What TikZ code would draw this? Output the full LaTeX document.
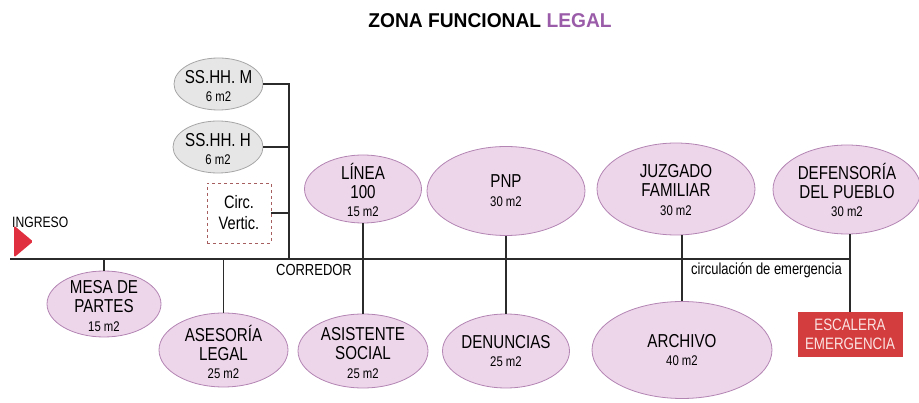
\documentclass[tikz,border=0pt]{standalone}
\usepackage{fontspec}
\setmainfont{Liberation Sans}[FakeStretch=0.81]
\newfontfamily\titlefont{Liberation Sans}[FakeStretch=0.96]
\usetikzlibrary{shapes.geometric}
\definecolor{pinkfill}{HTML}{EDD5EA}
\definecolor{pinkline}{HTML}{B385B3}
\definecolor{grayfill}{HTML}{E6E6E6}
\definecolor{grayline}{HTML}{A6A6A6}
\definecolor{legalpurple}{HTML}{9A5CA8}
\definecolor{stairred}{HTML}{D43D3D}
\definecolor{stairtext}{HTML}{FBE3E3}
\definecolor{ingred}{HTML}{E0303F}
\definecolor{dashbrown}{HTML}{A65E5E}
\definecolor{conn}{HTML}{2B2B2B}
\newcommand{\zbigfont}{\fontsize{18.7}{18.8}\selectfont}
\newcommand{\sml}{\fontsize{14}{18.8}\selectfont}
\tikzset{
  zone/.style={ellipse, draw=pinkline, fill=pinkfill, line width=0.8pt, inner sep=0pt},
  wc/.style={ellipse, draw=grayline, fill=grayfill, line width=0.8pt, inner sep=0pt},
  ztext/.style={align=center, inner sep=0pt, font=\zbigfont, text=black},
  link/.style={draw=conn, line width=1.2pt},
  lbl/.style={inner sep=0pt, font=\fontsize{16}{18}\selectfont, text=black}
}
\begin{document}
\begin{tikzpicture}[x=1pt,y=-1pt]
\useasboundingbox (0,0) rectangle (919,403);
% title
\node[inner sep=0pt, font=\titlefont\bfseries\fontsize{20}{22}\selectfont] (title) at (490,21)
  {ZONA FUNCIONAL \textcolor{legalpurple}{LEGAL}};
% ingreso
\node[anchor=west, inner sep=0pt, font=\fontsize{15}{16}\selectfont] (ingt) at (12,222) {INGRESO};
\node[isosceles triangle, fill=ingred, inner sep=0pt, minimum width=18pt, minimum height=19pt,
      rounded corners=1.5pt, isosceles triangle apex angle=80] (ing) at (21.5,241.5) {};
% corridor coordinates
\coordinate (cstart) at (10,259);
\coordinate (ssx) at (289,259);
% WC group
\node[wc, minimum width=89pt, minimum height=52pt] (ssm) at (218.5,84) {};
\node[ztext] (ssm-t) at (218.5,86) {SS.HH. M\\{\sml 6 m2}};
\node[wc, minimum width=90pt, minimum height=52pt] (ssh) at (218,147) {};
\node[ztext] (ssh-t) at (218,149) {SS.HH. H\\{\sml 6 m2}};
\node[draw=dashbrown, dashed, line width=0.8pt, minimum width=64pt, minimum height=60pt, inner sep=0pt,
      align=center, font=\fontsize{18}{21}\selectfont] (circ) at (239,213) {Circ.\\Vertic.};
% zones
\node[zone, minimum width=114pt, minimum height=66pt] (mesa) at (104,304) {};
\node[ztext] (mesa-t) at (104,306) {MESA DE\\PARTES\\{\sml 15 m2}};
\node[zone, minimum width=129pt, minimum height=74pt] (ases) at (223.5,350) {};
\node[ztext] (ases-t) at (223.5,352) {ASESORÍA\\LEGAL\\{\sml 25 m2}};
\node[zone, minimum width=117pt, minimum height=68pt] (linea) at (363,189) {};
\node[ztext] (linea-t) at (363,190) {LÍNEA\\100\\{\sml 15 m2}};
\node[zone, minimum width=130pt, minimum height=74pt] (asis) at (363,351) {};
\node[ztext] (asis-t) at (363,353) {ASISTENTE\\SOCIAL\\{\sml 25 m2}};
\node[zone, minimum width=158pt, minimum height=89pt] (pnp) at (506,191) {};
\node[ztext] (pnp-t) at (506,191) {PNP\\{\sml 30 m2}};
\node[zone, minimum width=127pt, minimum height=74pt] (denu) at (506,351) {};
\node[ztext] (denu-t) at (506,351) {DENUNCIAS\\{\sml 25 m2}};
\node[zone, minimum width=158pt, minimum height=92pt] (juz) at (676,189) {};
\node[ztext] (juz-t) at (676,190) {JUZGADO\\FAMILIAR\\{\sml 30 m2}};
\node[zone, minimum width=180pt, minimum height=97pt] (arch) at (682,350) {};
\node[ztext] (arch-t) at (682,350) {ARCHIVO\\{\sml 40 m2}};
\node[zone, minimum width=148pt, minimum height=89pt] (def) at (847,189.5) {};
\node[ztext] (def-t) at (847,190) {DEFENSORÍA\\DEL PUEBLO\\{\sml 30 m2}};
\node[fill=stairred, minimum width=105pt, minimum height=45pt, inner sep=0pt, align=center,
      text=stairtext, font=\fontsize{16.5}{18.5}\selectfont] (esc) at (850,334.5) {ESCALERA\\EMERGENCIA};
% corridor
\draw[link] (cstart) -- (cstart -| esc.north);
\node[lbl, anchor=west] (corr) at (276,270) {CORREDOR};
\node[lbl, anchor=west] (circem) at (691,270) {circulación de emergencia};
% connectors
\draw[link] (ssm.east) -| (ssx);
\draw[link] (ssh.east) -- (ssh.east -| ssx);
\draw[link] (circ.east) -- (circ.east -| ssx);
\draw[link] (mesa.north) -- (mesa.north |- cstart);
\draw[link] (ases.north) -- (ases.north |- cstart);
\draw[link] (linea.south) -- (asis.north);
\draw[link] (pnp.south) -- (denu.north);
\draw[link] (arch.north) -- (arch.north |- juz.south);
\draw[draw=conn, line width=2pt] (esc.north) -- (esc.north |- def.south);
\end{tikzpicture}
\end{document}
